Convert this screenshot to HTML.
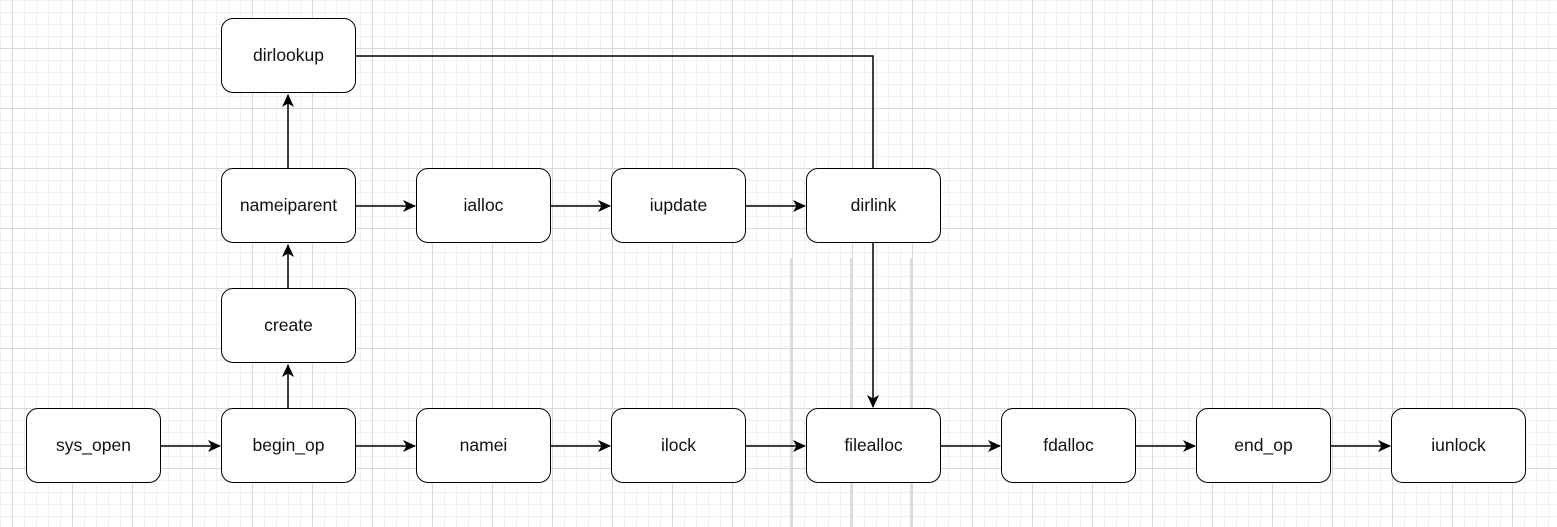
<!DOCTYPE html>
<html><head><style>
body{margin:0;width:1557px;height:527px;overflow:hidden;background:#fff;
background-image:
linear-gradient(to right,#d9d9d9 1px,transparent 1px),
linear-gradient(to bottom,#d9d9d9 1px,transparent 1px),
linear-gradient(to right,#f0f0f0 1px,transparent 1px),
linear-gradient(to bottom,#f0f0f0 1px,transparent 1px);
background-size:60px 60px,60px 60px,12px 12px,12px 12px;
background-position:12px 48px,12px 48px,0 0,0 0;}
.b{position:absolute;width:133px;height:73px;border:1.5px solid #000;border-radius:12px;background:#fff;
display:flex;align-items:center;justify-content:center;font:17.5px "Liberation Sans",sans-serif;color:#111}
svg{position:absolute;left:0;top:0}
</style></head><body>
<svg width="1557" height="527">
<defs><marker id="a" markerWidth="14" markerHeight="14" refX="12" refY="6" orient="auto" markerUnits="userSpaceOnUse">
<path d="M0,0 L13,6 L0,12 L3.5,6 Z" fill="#000"/></marker></defs>
<g stroke="#d4d4d4" stroke-width="1.5"><line x1="791" y1="258" x2="791" y2="527"/><line x1="851" y1="258" x2="851" y2="527"/><line x1="911" y1="258" x2="911" y2="527"/></g>
<g stroke="#000" stroke-width="1.5" fill="none">
<line x1="161" y1="446" x2="220" y2="446" marker-end="url(#a)"/>
<line x1="356" y1="446" x2="415" y2="446" marker-end="url(#a)"/>
<line x1="551" y1="446" x2="610" y2="446" marker-end="url(#a)"/>
<line x1="746" y1="446" x2="805" y2="446" marker-end="url(#a)"/>
<line x1="941" y1="446" x2="1000" y2="446" marker-end="url(#a)"/>
<line x1="1136" y1="446" x2="1195" y2="446" marker-end="url(#a)"/>
<line x1="1331" y1="446" x2="1390" y2="446" marker-end="url(#a)"/>
<line x1="356" y1="206" x2="415" y2="206" marker-end="url(#a)"/>
<line x1="551" y1="206" x2="610" y2="206" marker-end="url(#a)"/>
<line x1="746" y1="206" x2="805" y2="206" marker-end="url(#a)"/>
<line x1="288" y1="408" x2="288" y2="365" marker-end="url(#a)"/>
<line x1="288" y1="288" x2="288" y2="245" marker-end="url(#a)"/>
<line x1="288" y1="168" x2="288" y2="95" marker-end="url(#a)"/>
<polyline points="356,56 873,56 873,168"/>
<line x1="873" y1="243" x2="873" y2="407" marker-end="url(#a)"/>
</g></svg>
<div class="b" style="left:221px;top:18px">dirlookup</div>
<div class="b" style="left:221px;top:168px">nameiparent</div>
<div class="b" style="left:416px;top:168px">ialloc</div>
<div class="b" style="left:611px;top:168px">iupdate</div>
<div class="b" style="left:806px;top:168px">dirlink</div>
<div class="b" style="left:221px;top:288px">create</div>
<div class="b" style="left:26px;top:408px">sys_open</div>
<div class="b" style="left:221px;top:408px">begin_op</div>
<div class="b" style="left:416px;top:408px">namei</div>
<div class="b" style="left:611px;top:408px">ilock</div>
<div class="b" style="left:806px;top:408px">filealloc</div>
<div class="b" style="left:1001px;top:408px">fdalloc</div>
<div class="b" style="left:1196px;top:408px">end_op</div>
<div class="b" style="left:1391px;top:408px">iunlock</div>
</body></html>
